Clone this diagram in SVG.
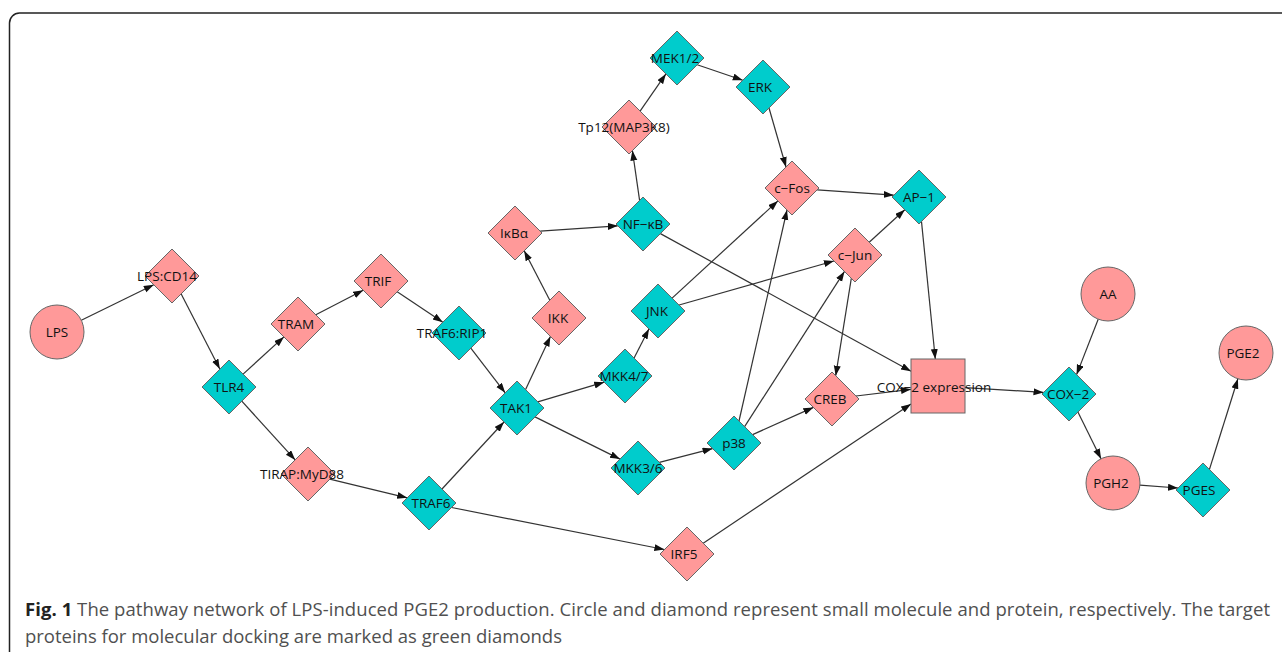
<svg xmlns="http://www.w3.org/2000/svg" width="1282" height="652" viewBox="0 0 1282 652">
<style>
.p{fill:#FF9999;stroke:#666;stroke-width:1}
.g{fill:#00CCCC;stroke:#666;stroke-width:1}
.t{font-family:"Open Sans","Noto Sans",sans-serif;font-size:13.5px;fill:#111;text-anchor:middle;dominant-baseline:central}
.e line{stroke:#333;stroke-width:1.2;marker-end:url(#ah)}
.cap{font-family:"Open Sans","Noto Sans",sans-serif;font-size:18.5px;fill:#505050}
</style>
<defs>
<marker id="ah" markerUnits="userSpaceOnUse" markerWidth="11" markerHeight="8" refX="10" refY="3.5" orient="auto">
<path d="M0,0 L10,3.5 L0,7 z" fill="#111"/>
</marker>
<path id="dm" d="M0,-27 L27,0 L0,27 L-27,0 z"/>
</defs>
<rect width="1282" height="652" fill="#fff"/>
<path d="M9.5,652 V23 A10,10 0 0 1 19.5,13 H1282" fill="none" stroke="#222" stroke-width="1.5"/>
<g id="connectors" class="e">
<line x1="81.3" y1="320.2" x2="153.8" y2="284.8"/>
<line x1="181.2" y1="293.9" x2="219.8" y2="369.1"/>
<line x1="243.1" y1="374.1" x2="283.9" y2="336.9"/>
<line x1="241.8" y1="401.1" x2="295.2" y2="459.9"/>
<line x1="315.8" y1="314.8" x2="363.2" y2="290.2"/>
<line x1="397.2" y1="291.8" x2="442.8" y2="322.2"/>
<line x1="470.8" y1="348.2" x2="505.2" y2="392.8"/>
<line x1="329.8" y1="479.2" x2="407.2" y2="497.8"/>
<line x1="442.0" y1="489.0" x2="504.0" y2="422.0"/>
<line x1="451.6" y1="507.5" x2="664.4" y2="549.5"/>
<line x1="525.6" y1="389.6" x2="550.4" y2="336.4"/>
<line x1="537.8" y1="401.8" x2="604.2" y2="382.2"/>
<line x1="535.0" y1="416.9" x2="620.0" y2="459.1"/>
<line x1="549.8" y1="300.2" x2="524.2" y2="250.8"/>
<line x1="540.2" y1="231.2" x2="617.8" y2="225.8"/>
<line x1="639.6" y1="200.4" x2="632.4" y2="150.6"/>
<line x1="640.1" y1="111.1" x2="665.9" y2="73.9"/>
<line x1="697.2" y1="64.8" x2="742.8" y2="80.2"/>
<line x1="769.0" y1="108.0" x2="786.0" y2="167.0"/>
<line x1="660.4" y1="233.6" x2="911.0" y2="371.2"/>
<line x1="634.1" y1="358.1" x2="648.9" y2="328.9"/>
<line x1="672.1" y1="298.1" x2="777.9" y2="200.9"/>
<line x1="679.1" y1="305.0" x2="833.9" y2="261.0"/>
<line x1="659.4" y1="462.4" x2="712.6" y2="448.6"/>
<line x1="739.0" y1="421.0" x2="787.0" y2="210.0"/>
<line x1="744.6" y1="426.6" x2="844.5" y2="271.4"/>
<line x1="752.6" y1="434.6" x2="813.4" y2="407.4"/>
<line x1="817.2" y1="189.8" x2="893.8" y2="195.2"/>
<line x1="869.2" y1="242.2" x2="904.8" y2="209.8"/>
<line x1="851.3" y1="278.3" x2="835.7" y2="375.7"/>
<line x1="921.5" y1="221.6" x2="935.3" y2="359.0"/>
<line x1="856.0" y1="396.0" x2="911.0" y2="389.3"/>
<line x1="703.2" y1="543.2" x2="911.0" y2="403.9"/>
<line x1="965.0" y1="387.6" x2="1043.5" y2="392.4"/>
<line x1="1098.2" y1="319.2" x2="1076.6" y2="374.6"/>
<line x1="1077.9" y1="412.1" x2="1101.0" y2="458.8"/>
<line x1="1139.9" y1="485.1" x2="1178.0" y2="488.0"/>
<line x1="1209.4" y1="469.5" x2="1237.9" y2="378.8"/>
</g>
<g id="n-LPS"><circle class="p" cx="57" cy="332" r="27"/><text class="t" x="57" y="332">LPS</text></g>
<g id="n-LPSCD14"><use href="#dm" class="p" x="172" y="276"/><text class="t" x="167" y="276">LPS:CD14</text></g>
<g id="n-TLR4"><use href="#dm" class="g" x="229" y="387"/><text class="t" x="229" y="387">TLR4</text></g>
<g id="n-TRAM"><use href="#dm" class="p" x="298" y="324"/><text class="t" x="296" y="324">TRAM</text></g>
<g id="n-TRIF"><use href="#dm" class="p" x="381" y="281"/><text class="t" x="378" y="281">TRIF</text></g>
<g id="n-TIRAP"><use href="#dm" class="p" x="308" y="474"/><text class="t" x="302" y="474">TIRAP:MyD88</text></g>
<g id="n-TRAF6RIP1"><use href="#dm" class="g" x="459" y="333"/><text class="t" x="452" y="333">TRAF6:RIP1</text></g>
<g id="n-TRAF6"><use href="#dm" class="g" x="429" y="503"/><text class="t" x="431" y="503">TRAF6</text></g>
<g id="n-TAK1"><use href="#dm" class="g" x="517" y="408"/><text class="t" x="516" y="408">TAK1</text></g>
<g id="n-IKK"><use href="#dm" class="p" x="559" y="318"/><text class="t" x="558" y="318">IKK</text></g>
<g id="n-IkBa"><use href="#dm" class="p" x="515" y="233"/><text class="t" x="514" y="233">IκBα</text></g>
<g id="n-NFkB"><use href="#dm" class="g" x="643" y="224"/><text class="t" x="643" y="224">NF−κB</text></g>
<g id="n-Tp12"><use href="#dm" class="p" x="629" y="127"/><text class="t" x="624" y="127">Tp12(MAP3K8)</text></g>
<g id="n-MEK12"><use href="#dm" class="g" x="677" y="58"/><text class="t" x="675" y="58">MEK1/2</text></g>
<g id="n-ERK"><use href="#dm" class="g" x="763" y="87"/><text class="t" x="760" y="87">ERK</text></g>
<g id="n-MKK47"><use href="#dm" class="g" x="625" y="376"/><text class="t" x="624" y="376">MKK4/7</text></g>
<g id="n-JNK"><use href="#dm" class="g" x="658" y="311"/><text class="t" x="657" y="311">JNK</text></g>
<g id="n-MKK36"><use href="#dm" class="g" x="638" y="468"/><text class="t" x="638" y="468">MKK3/6</text></g>
<g id="n-p38"><use href="#dm" class="g" x="734" y="443"/><text class="t" x="734" y="443">p38</text></g>
<g id="n-IRF5"><use href="#dm" class="p" x="687" y="554"/><text class="t" x="684" y="554">IRF5</text></g>
<g id="n-cFos"><use href="#dm" class="p" x="792" y="188"/><text class="t" x="792" y="188">c−Fos</text></g>
<g id="n-cJun"><use href="#dm" class="p" x="855" y="255"/><text class="t" x="855" y="255">c−Jun</text></g>
<g id="n-AP1"><use href="#dm" class="g" x="919" y="197"/><text class="t" x="919" y="197">AP−1</text></g>
<g id="n-CREB"><use href="#dm" class="p" x="832" y="399"/><text class="t" x="830" y="399">CREB</text></g>
<g id="n-COX2expr"><rect class="p" x="911" y="359" width="54" height="54"/><text class="t" x="934" y="387">COX−2 expression</text></g>
<g id="n-AA"><circle class="p" cx="1108" cy="294" r="27"/><text class="t" x="1108" y="294">AA</text></g>
<g id="n-COX2"><use href="#dm" class="g" x="1069" y="394"/><text class="t" x="1068" y="394">COX−2</text></g>
<g id="n-PGH2"><circle class="p" cx="1113" cy="483" r="27"/><text class="t" x="1111" y="483">PGH2</text></g>
<g id="n-PGES"><use href="#dm" class="g" x="1203" y="490"/><text class="t" x="1199" y="490">PGES</text></g>
<g id="n-PGE2"><circle class="p" cx="1246" cy="353" r="27"/><text class="t" x="1243" y="353">PGE2</text></g>
<g id="caption">
<text class="cap" x="25" y="616" textLength="1245" lengthAdjust="spacing"><tspan font-weight="bold" fill="#222">Fig. 1</tspan> The pathway network of LPS-induced PGE2 production. Circle and diamond represent small molecule and protein, respectively. The target</text>
<text class="cap" x="25" y="643" textLength="537" lengthAdjust="spacing">proteins for molecular docking are marked as green diamonds</text>
</g>
</svg>
